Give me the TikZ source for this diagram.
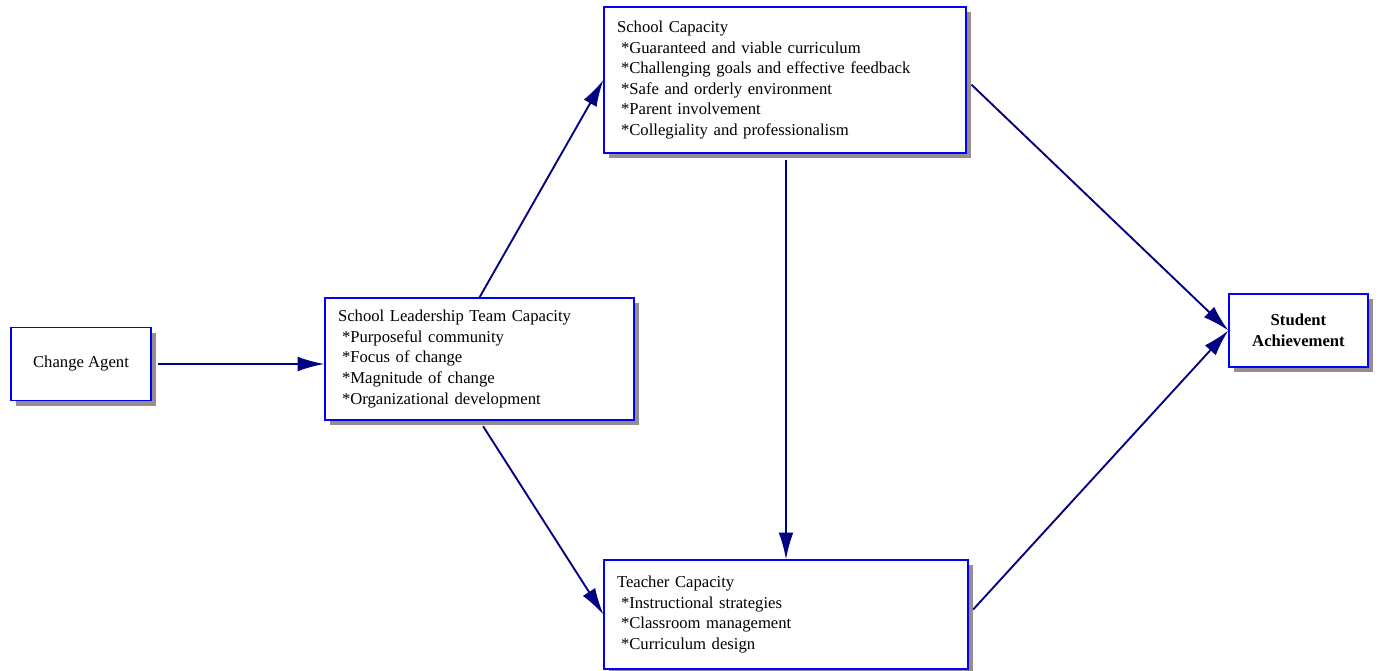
\documentclass[tikz,border=0pt]{standalone}
\usepackage{fontspec}
\setmainfont{Liberation Serif}
\usetikzlibrary{positioning}
\usetikzlibrary{arrows.meta}
\usetikzlibrary{shadows}
\definecolor{boxblue}{RGB}{0,0,255}
\definecolor{navy}{RGB}{0,0,128}
\definecolor{shadowgray}{RGB}{150,142,142}

\begin{document}
\begin{tikzpicture}[x=0.75pt,y=-0.75pt,
  box/.style={draw=boxblue, line width=0.9pt, fill=white, align=left, inner sep=0pt,
    font=\fontsize{12.5}{15.4}\selectfont,
    drop shadow={shadow xshift=4pt, shadow yshift=-4pt, fill=shadowgray, opacity=1}},
  link/.style={draw=navy, line width=1.4pt, -{Latex[length=20pt,width=11pt]}, shorten <=5pt}]

\useasboundingbox (0,0) rectangle (1379,671);

% boxes
\node[box, align=center, minimum width=105pt, minimum height=54.75pt] (v1) at (81,364) {Change Agent};

\node[box, minimum width=231.75pt, minimum height=91.5pt, text width=212.25pt] (v2) at (479.5,359)
  {School Leadership Team Capacity\\
   \hspace{3pt}*Purposeful community\\
   \hspace{3pt}*Focus of change\\
   \hspace{3pt}*Magnitude of change\\
   \hspace{3pt}*Organizational development};

\node[box, minimum width=271.5pt, minimum height=109.5pt, text width=252pt] (v3) at (785,80)
  {School Capacity\\
   \hspace{3pt}*Guaranteed and viable curriculum\\
   \hspace{3pt}*Challenging goals and effective feedback\\
   \hspace{3pt}*Safe and orderly environment\\
   \hspace{3pt}*Parent involvement\\
   \hspace{3pt}*Collegiality and professionalism};

\node[box, minimum width=273pt, minimum height=81.75pt, text width=253.5pt] (v4) at (786,614.5)
  {Teacher Capacity\\
   \hspace{3pt}*Instructional strategies\\
   \hspace{3pt}*Classroom management\\
   \hspace{3pt}*Curriculum design};

\node[box, align=center, minimum width=104.25pt, minimum height=54.75pt, font=\fontsize{12.5}{15.4}\selectfont\bfseries] (v5) at (1298.5,330.5)
  {Student\\Achievement};

%% arrows
\draw[link] (v1.east) -- (v1.east -| v2.west);
\draw[link, shorten <=0pt] (v2.north) -- (v3.west);
\draw[link] (v2.south) -- (v4.west);
\draw[link] (v3.south -| v4.north) -- (v4.north);
\draw[link] (v3.east) -- (v5.west);
\draw[link] (v4.east) -- (v5.west);
\end{tikzpicture}
\end{document}
